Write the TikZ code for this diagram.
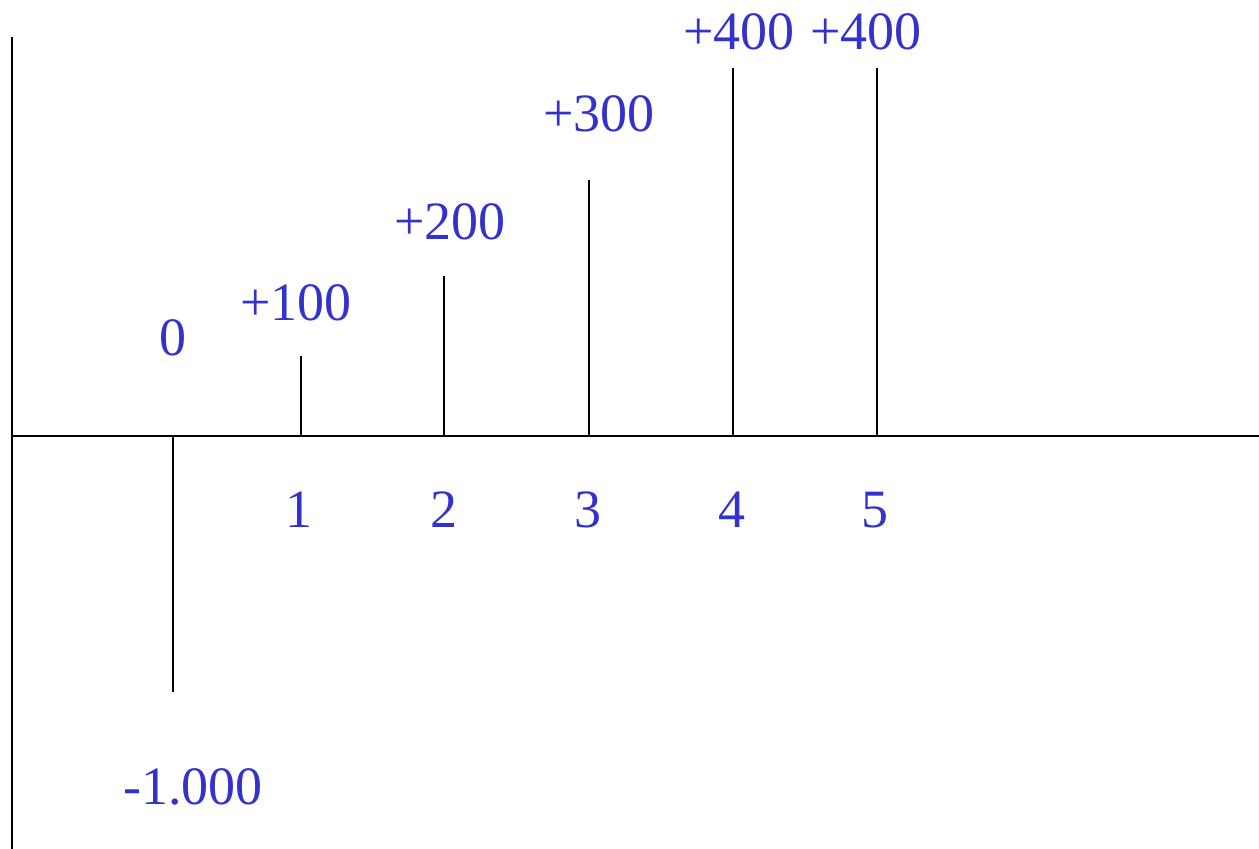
\documentclass[tikz,border=0pt]{standalone}
\usepackage{fontspec}
\setmainfont{Liberation Serif}
\definecolor{cashblue}{RGB}{51,51,204}
\tikzset{every picture/.style={line width=1pt}}
\tikzset{
cash label/.style={inner sep=0.75pt, text=cashblue, font=\fontsize{27}{31}\selectfont},
cash line/.style={draw=black, line width=1pt}}

\begin{document}
\begin{tikzpicture}[x=0.5pt,y=0.5pt,yscale=-1,xscale=1]
\useasboundingbox (0,0) rectangle (1259,849);

%Axes
\coordinate (ytop) at (12,37);
\coordinate (ybot) at (12,849);
\coordinate (xleft) at (12,436);
\coordinate (xright) at (1259,436);
\draw [cash line] (ytop) -- (ybot) ;
\draw [cash line] (xleft) -- (xright) ;

%Cash flow lines
\coordinate (p0) at (173,436);  \coordinate (c0) at (173,692);
\coordinate (p1) at (301,436);  \coordinate (c1) at (301,356);
\coordinate (p2) at (444,436);  \coordinate (c2) at (444,276);
\coordinate (p3) at (589,436);  \coordinate (c3) at (589,180);
\coordinate (p4) at (733,436);  \coordinate (c4) at (733,68);
\coordinate (p5) at (877,436);  \coordinate (c5) at (877,68);
\foreach \i in {0,...,5}{
\draw [cash line] (p\i) -- (c\i) ;
}

% Text Node
\draw (173,338) node [cash label] (v0) {0};
% Text Node
\draw (193,787) node [cash label] (out0) {-1.000};
% Text Node
\draw (296,303) node [cash label] (v1) {+100};
% Text Node
\draw (450,222) node [cash label] (v2) {+200};
% Text Node
\draw (599,114) node [cash label] (v3) {+300};
% Text Node
\draw (739,32) node [cash label] (v4) {+400};
% Text Node
\draw (866,32) node [cash label] (v5) {+400};

% Period labels
\draw (299,510) node [cash label] (t1) {1};
\draw (444,510) node [cash label] (t2) {2};
\draw (588,510) node [cash label] (t3) {3};
\draw (732,510) node [cash label] (t4) {4};
\draw (875,510) node [cash label] (t5) {5};

\end{tikzpicture}
\end{document}
